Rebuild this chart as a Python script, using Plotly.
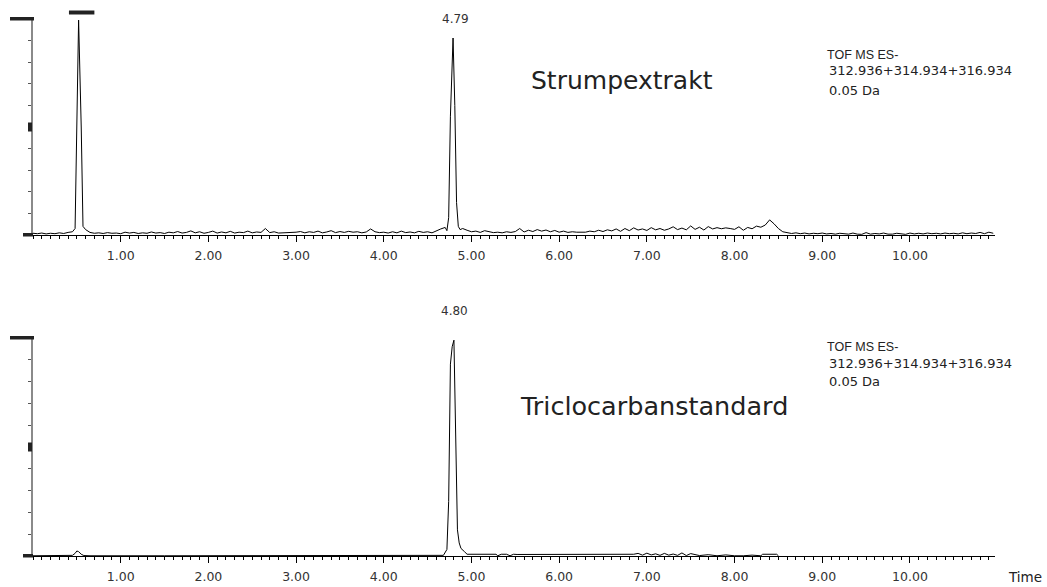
import plotly.graph_objects as go

# ---------------- data ----------------
top_time = [0.00, 0.05, 0.10, 0.15, 0.20, 0.25, 0.30, 0.35, 0.40, 0.45,
            0.48, 0.50, 0.52, 0.55, 0.57, 0.60,
            0.65, 0.70, 0.75, 0.80, 0.85, 0.90, 0.95, 1.00,
            1.05, 1.10, 1.15, 1.20, 1.25, 1.30, 1.35, 1.40, 1.45, 1.50,
            1.55, 1.60, 1.65, 1.70, 1.75, 1.80, 1.85, 1.90, 1.95, 2.00,
            2.05, 2.10, 2.15, 2.20, 2.25, 2.30, 2.35, 2.40, 2.45, 2.50,
            2.55, 2.60, 2.65, 2.70, 2.75, 2.80, 2.85, 2.90, 2.95, 3.00,
            3.05, 3.10, 3.15, 3.20, 3.25, 3.30, 3.35, 3.40, 3.45, 3.50,
            3.55, 3.60, 3.65, 3.70, 3.75, 3.80, 3.85, 3.90, 3.95, 4.00,
            4.05, 4.10, 4.15, 4.20, 4.25, 4.30, 4.35, 4.40, 4.45,
            4.50, 4.55, 4.60, 4.65, 4.70,
            4.72, 4.74, 4.76, 4.79, 4.81, 4.83, 4.85, 4.87, 4.90,
            4.95, 5.00, 5.05, 5.10, 5.15, 5.20, 5.25, 5.30, 5.35, 5.40,
            5.45, 5.50, 5.55, 5.60, 5.65, 5.70, 5.75, 5.80, 5.85, 5.90,
            5.95, 6.00, 6.05, 6.10, 6.15, 6.20, 6.25, 6.30, 6.35, 6.40,
            6.45, 6.50, 6.55, 6.60, 6.65, 6.70, 6.75, 6.80, 6.85, 6.90,
            6.95, 7.00, 7.05, 7.10, 7.15, 7.20, 7.25, 7.30, 7.35, 7.40,
            7.45, 7.50, 7.55, 7.60, 7.65, 7.70, 7.75, 7.80, 7.85, 7.90,
            7.95, 8.00, 8.05, 8.10, 8.15, 8.20, 8.25, 8.30, 8.35, 8.40,
            8.45, 8.50, 8.55, 8.60, 8.65, 8.70, 8.75, 8.80, 8.85, 8.90,
            8.95, 9.00, 9.05, 9.10, 9.15, 9.20, 9.25, 9.30, 9.35, 9.40,
            9.45, 9.50, 9.55, 9.60, 9.65, 9.70, 9.75, 9.80, 9.85, 9.90,
            9.95, 10.00, 10.05, 10.10, 10.15, 10.20, 10.25, 10.30, 10.35, 10.40,
            10.45, 10.50, 10.55, 10.60, 10.65, 10.70, 10.75, 10.80, 10.85, 10.90,
            10.95]

top_intensity = [0.8, 0.6, 0.9, 0.5, 0.8, 0.6, 1.0, 0.7, 1.2, 1.5,
                 3.0, 60.0, 99.5, 50.0, 4.0, 2.5,
                 1.2, 0.8, 1.0, 0.7, 1.1, 0.8, 0.9, 0.6,
                 1.3, 0.9, 1.2, 0.7, 1.0, 0.8, 1.4, 0.9, 1.1, 0.7,
                 1.3, 1.0, 1.6, 0.9, 1.2, 1.9, 1.0, 1.5, 0.8, 1.2,
                 1.8, 0.9, 1.4, 1.0, 1.7, 0.9, 1.3, 1.1, 1.8, 1.0,
                 1.4, 1.2, 3.0, 1.1, 1.5, 0.9, 1.0, 0.8, 0.9, 1.3,
                 1.6, 1.0, 1.5, 1.2, 1.8, 1.0, 1.4, 2.0, 1.1, 1.6,
                 1.2, 1.7, 1.3, 1.5, 1.0, 1.4, 2.8, 1.5, 1.1, 1.3,
                 0.9, 1.5, 1.0, 1.8, 1.1, 1.4, 1.0, 1.7, 1.2,
                 1.5, 1.0, 2.0, 2.8, 3.5,
                 2.0, 8.0, 55.0, 91.2, 60.0, 15.0, 4.0, 2.5, 3.0,
                 2.2, 1.5, 1.8, 1.2, 2.0, 1.4, 1.1, 1.3, 1.0, 1.5,
                 1.2, 1.6, 3.0, 1.4, 2.2, 1.6, 2.5, 1.8, 2.3, 1.5,
                 2.1, 1.3, 1.8, 1.2, 1.5, 1.3, 1.4, 1.3, 1.8, 1.5,
                 2.2, 1.6, 2.4, 1.9, 2.8, 1.7, 3.0, 2.0, 3.3, 2.3,
                 2.8, 2.1, 3.4, 2.4, 3.0, 2.2, 2.8, 3.8, 2.5, 3.2,
                 2.4, 4.2, 2.6, 3.6, 2.3, 3.9, 2.8, 3.4, 2.9, 3.3,
                 3.0, 2.6, 3.8, 2.2, 3.5, 2.9, 4.1, 3.6, 4.6, 7.0,
                 5.2, 3.0, 1.5, 1.0, 0.7, 1.0, 0.6, 0.9, 0.5, 0.8,
                 0.6, 0.9, 0.5, 0.7, 0.4, 0.8, 0.5, 0.4, 0.9, 0.4,
                 0.3, 1.1, 0.4, 0.7, 0.5, 0.9, 0.4, 0.4, 0.8, 0.5,
                 0.3, 0.9, 0.5, 0.8, 0.5, 0.9, 0.6, 0.8, 0.5, 0.9,
                 0.6, 0.8, 0.5, 1.0, 0.6, 0.9, 0.7, 1.2, 0.6, 1.3,
                 0.8]

bottom_time = [0.00, 0.20, 0.40, 0.45, 0.48, 0.50, 0.52, 0.55, 0.58, 0.65,
               1.50, 3.00, 4.50, 4.68, 4.72, 4.74, 4.76, 4.78, 4.80, 4.82,
               4.84, 4.86, 4.88, 4.92, 4.95, 5.28, 5.30, 5.34, 5.36, 5.40,
               5.44, 5.48, 5.52, 5.56, 6.05, 6.10, 6.40, 6.85, 6.90, 6.95,
               7.00, 7.05, 7.10, 7.15, 7.20, 7.25, 7.30, 7.35, 7.40, 7.45,
               7.50, 7.55, 7.60, 7.70, 7.80, 7.90, 8.00, 8.10, 8.20, 8.30,
               8.32, 8.48, 8.50]

bottom_intensity = [0.1, 0.1, 0.1, 0.3, 1.2, 2.3, 2.0, 0.8, 0.2, 0.1,
                    0.1, 0.1, 0.1, 0.3, 3.0, 25.0, 88.0, 96.0, 99.0, 45.0,
                    12.0, 6.0, 3.5, 2.0, 0.8, 0.8, 0.1, 0.8, 0.9, 0.8,
                    0.1, 0.8, 0.7, 0.7, 0.7, 0.8, 0.8, 0.8, 1.2, 0.4,
                    1.3, 0.5, 1.0, 0.3, 1.2, 0.4, 0.9, 0.3, 1.4, 0.2,
                    1.1, 0.8, 0.2, 0.6, 0.1, 0.5, 0.1, 0.1, 0.4, 0.1,
                    0.8, 0.8, 0.1]

assert len(top_time) == len(top_intensity)
assert len(bottom_time) == len(bottom_intensity)

tick_values = [1, 2, 3, 4, 5, 6, 7, 8, 9, 10]
tick_labels = ["1.00", "2.00", "3.00", "4.00", "5.00", "6.00", "7.00", "8.00", "9.00", "10.00"]

top_peak_label = "4.79"
top_peak_time = 4.79
bottom_peak_label = "4.80"
bottom_peak_time = 4.80
top_title = "Strumpextrakt"
bottom_title = "Triclocarbanstandard"
info_lines = ["TOF MS ES-", "312.936+314.934+316.934", "0.05 Da"]

# ---------------- layout helpers ----------------
W, H = 1047, 587


def px(x):
    return x / W


def py(y):
    return 1 - y / H


X0, X1 = 33, 995
XMAX = 10.97

fig = go.Figure()
fig.add_trace(go.Scatter(x=top_time, y=top_intensity, mode="lines",
                         line=dict(color="black", width=1), xaxis="x", yaxis="y",
                         showlegend=False, hoverinfo="skip"))
fig.add_trace(go.Scatter(x=bottom_time, y=bottom_intensity, mode="lines",
                         line=dict(color="black", width=1), xaxis="x2", yaxis="y2",
                         showlegend=False, hoverinfo="skip"))

tickfont = dict(family="DejaVu Sans", size=12.5, color="#333333")

xaxis_common = dict(
    domain=[px(X0), px(X1)], range=[0, XMAX], showline=True, linecolor="black",
    linewidth=1, ticks="outside", ticklen=6, tickcolor="black", tickwidth=1,
    tickmode="array", tickvals=tick_values, ticktext=tick_labels,
    showgrid=False, zeroline=False, tickfont=tickfont, ticklabelstandoff=3,
    minor=dict(ticks="outside", ticklen=3, dtick=0.1, tick0=0, tickcolor="black",
               showgrid=False),
)
yaxis_common = dict(
    range=[0, 100], showline=True, linecolor="#8a8a8a", linewidth=2,
    ticks="outside", ticklen=3, tickcolor="#555555", dtick=10, tick0=0,
    showticklabels=False, showgrid=False, zeroline=False,
)

layout = dict(
    width=W, height=H, margin=dict(l=0, r=0, t=0, b=0),
    paper_bgcolor="white", plot_bgcolor="white",
    xaxis=dict(xaxis_common, anchor="y"),
    yaxis=dict(yaxis_common, domain=[py(235), py(19)], anchor="x"),
    xaxis2=dict(xaxis_common, anchor="y2"),
    yaxis2=dict(yaxis_common, domain=[py(556), py(338)], anchor="x2"),
)
fig.update_layout(**layout)

shapes = []
# black scale markers on the y-axes (top, middle, bottom)
for top_px, base_px in [(19, 235), (338, 556)]:
    mid_px = (top_px + base_px) / 2
    shapes.append(dict(type="rect", xref="paper", yref="paper",
                       x0=px(10), x1=px(34), y0=py(top_px + 1.5), y1=py(top_px - 2),
                       fillcolor="#222222", line_width=0))
    shapes.append(dict(type="rect", xref="paper", yref="paper",
                       x0=px(28), x1=px(32), y0=py(mid_px + 4.5), y1=py(mid_px - 4.5),
                       fillcolor="#222222", line_width=0))
    shapes.append(dict(type="rect", xref="paper", yref="paper",
                       x0=px(23), x1=px(33), y0=py(base_px + 1.5), y1=py(base_px - 2),
                       fillcolor="#222222", line_width=0))
# off-scale bar above the first peak in the upper panel
shapes.append(dict(type="rect", xref="x", yref="paper", x0=0.41, x1=0.70,
                   y0=py(14.5), y1=py(10.5), fillcolor="#222222", line_width=0))
fig.update_layout(shapes=shapes)

ann = []
ann.append(dict(x=top_peak_time, xref="x", y=py(19), yref="paper", text=top_peak_label,
                showarrow=False, font=dict(family="DejaVu Sans", size=12, color="#333333"),
                xanchor="center", yanchor="middle", xshift=2))
ann.append(dict(x=bottom_peak_time, xref="x2", y=py(311), yref="paper", text=bottom_peak_label,
                showarrow=False, font=dict(family="DejaVu Sans", size=12, color="#333333"),
                xanchor="center", yanchor="middle", xshift=1))
ann.append(dict(x=px(529), xref="paper", y=py(80), yref="paper", text=top_title,
                showarrow=False, font=dict(family="DejaVu Sans", size=25, color="#222222"),
                xanchor="left", yanchor="middle"))
ann.append(dict(x=px(518), xref="paper", y=py(406), yref="paper", text=bottom_title,
                showarrow=False, font=dict(family="DejaVu Sans", size=25.5, color="#222222"),
                xanchor="left", yanchor="middle"))
for base in (55, 347):
    ann.append(dict(x=px(825), xref="paper", y=py(base), yref="paper", text=info_lines[0],
                    showarrow=False, font=dict(family="Liberation Sans", size=12.5, color="#222222"),
                    xanchor="left", yanchor="middle"))
    ann.append(dict(x=px(827), xref="paper", y=py(base + 16), yref="paper", text=info_lines[1],
                    showarrow=False, font=dict(family="DejaVu Sans", size=13, color="#222222"),
                    xanchor="left", yanchor="middle"))
    ann.append(dict(x=px(827), xref="paper", y=py(base + 35), yref="paper", text=info_lines[2],
                    showarrow=False, font=dict(family="DejaVu Sans", size=13, color="#222222"),
                    xanchor="left", yanchor="middle"))
ann.append(dict(x=px(1006), xref="paper", y=py(577), yref="paper", text="Time",
                showarrow=False, font=dict(family="DejaVu Sans", size=13.5, color="#222222"),
                xanchor="left", yanchor="middle"))
fig.update_layout(annotations=ann)

fig.write_html("out.html", config={"displayModeBar": False},
               post_script="document.body.style.margin='0px';")
